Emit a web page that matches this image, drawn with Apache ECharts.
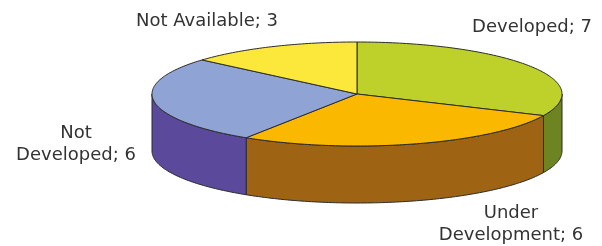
<!DOCTYPE html>
<html>
<head>
<meta charset="utf-8">
<script src="https://cdn.jsdelivr.net/npm/echarts@6/dist/echarts.min.js"></script>
<style>
  html, body { margin: 0; padding: 0; background: #fff; }
  #chart { width: 602px; height: 246px; }
</style>
</head>
<body>
<div id="chart"></div>
<script>
var categories = ['Developed', 'Under Development', 'Not Developed', 'Not Available'];
var values = [7, 6, 6, 3];
var labelWrap = [false, true, true, false];

var topColors = ['#bdd12a', '#fab800', '#8fa3d4', '#fbe83b'];
var sideColors = ['#6e8423', '#9e6414', '#5b4a9c', '#c9b52c'];

// pie geometry (ellipse) and label spots
var cx = 357, cy = 94, rx = 205, ry = 52, depth = 57;
var labelPos = [[532, 27], [511, 224], [76, 144], [207, 21]];

var total = values.reduce(function (a, b) { return a + b; }, 0);

function pt(deg, dy) {
  var r = deg * Math.PI / 180;
  return [cx + rx * Math.cos(r), cy - ry * Math.sin(r) + (dy || 0)];
}

function arc(a, b, dy) {
  // from angle a to angle b (degrees), stepping
  var pts = [];
  var n = Math.max(2, Math.ceil(Math.abs(a - b)));
  for (var k = 0; k <= n; k++) {
    pts.push(pt(a + (b - a) * k / n, dy));
  }
  return pts;
}

function sliceAngles(i) {
  var cum = 0;
  for (var j = 0; j < i; j++) cum += values[j];
  var s = 90 - 360 * cum / total;
  var e = s - 360 * values[i] / total;
  return [s, e];
}

var chart = echarts.init(document.getElementById('chart'));

chart.setOption({
  animation: false,
  series: [{
    type: 'custom',
    coordinateSystem: 'none',
    data: values.map(function (v, i) { return [v, i]; }),
    renderItem: function (params, api) {
      var i = params.dataIndex;
      var ang = sliceAngles(i);
      var s = ang[0], e = ang[1];
      var children = [];
      // front side wall: part of slice in [-180, 0]
      var a = Math.min(s, 0), b = Math.max(e, -180);
      if (a > b) {
        var topArc = arc(a, b, 0);
        var botArc = arc(b, a, depth);
        children.push({
          type: 'polygon',
          z2: 1,
          shape: { points: topArc.concat(botArc) },
          style: { fill: sideColors[i], stroke: '#2b2b2b', lineWidth: 1 }
        });
      }
      children.push({
        type: 'polygon',
        z2: 2,
        shape: { points: [[cx, cy]].concat(arc(s, e, 0)) },
        style: { fill: topColors[i], stroke: '#2b2b2b', lineWidth: 1, lineJoin: 'round' }
      });
      return { type: 'group', children: children };
    }
  }],
  graphic: categories.map(function (c, i) {
    var name = labelWrap[i] ? c.replace(' ', '\n') : c;
    return {
      type: 'text',
      x: labelPos[i][0],
      y: labelPos[i][1],
      style: {
        text: name + '; ' + values[i],
        fontFamily: 'DejaVu Sans',
        fontSize: 18,
        lineHeight: 22,
        fill: '#333333',
        align: 'center',
        verticalAlign: 'middle'
      }
    };
  })
});
</script>
</body>
</html>
